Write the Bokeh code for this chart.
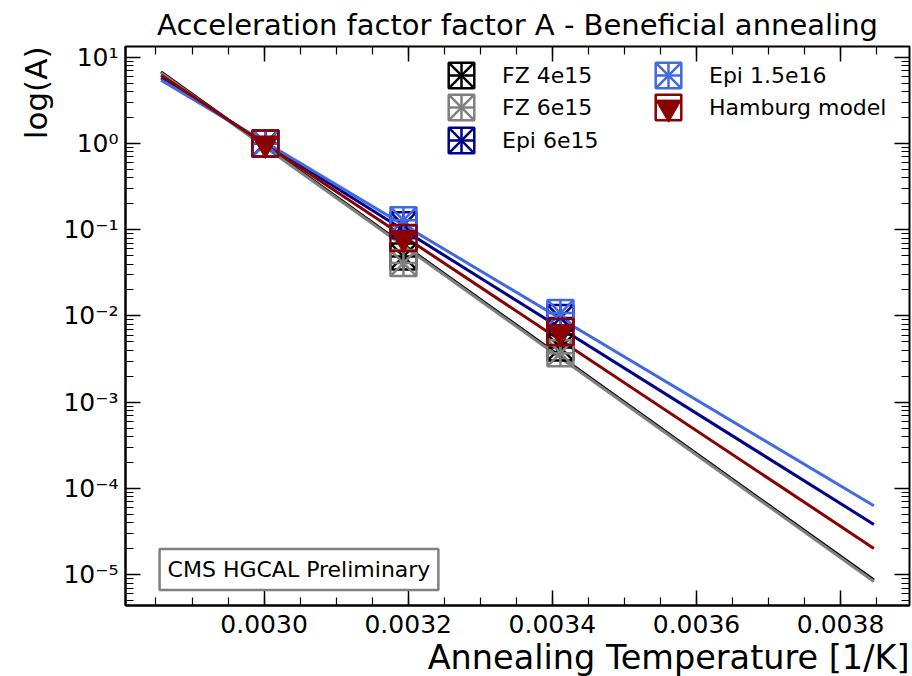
from bokeh.plotting import figure
from bokeh.models import (Range1d, LinearAxis, LogAxis, FixedTicker, Legend, LegendItem,
                          Label, Title, CustomJSTickFormatter)
from bokeh.embed import file_html
from bokeh.resources import INLINE

FONT = "DejaVu Sans"

# Arrhenius fits of the acceleration factor, drawn from 350 K down to 260 K
fit_inv_temp = [0.0028571, 0.0038462]
fit_fz_4e15 = [6.76, 8.67e-6]
fit_fz_6e15 = [6.58, 8.36e-6]
fit_epi_6e15 = [5.73, 3.83e-5]
fit_epi_1p5e16 = [5.42, 6.3e-5]
fit_hamburg = [6.17, 2.02e-5]

# Measured acceleration factors at 60, 40 and 20 degC (1/T in 1/K)
meas_inv_temp = [0.0030017, 0.0031934, 0.0034112]
meas_fz_4e15 = [1.0, 0.049, 0.0043]
meas_fz_6e15 = [1.0, 0.041, 0.0037]
meas_epi_6e15 = [1.0, 0.113, 0.0095]
meas_epi_1p5e16 = [1.0, 0.129, 0.0108]
meas_hamburg = [1.0, 0.080, 0.0065]

series_labels = ["FZ 4e15", "FZ 6e15", "Epi 6e15", "Epi 1.5e16", "Hamburg model"]
series_colors = ["#000000", "#808080", "#00008b", "#4169e1", "#8b0000"]
fits = [fit_fz_4e15, fit_fz_6e15, fit_epi_6e15, fit_epi_1p5e16, fit_hamburg]
measurements = [meas_fz_4e15, meas_fz_6e15, meas_epi_6e15, meas_epi_1p5e16, meas_hamburg]

x_ticks = [0.0030, 0.0032, 0.0034, 0.0036, 0.0038]
y_ticks = [1e-5, 1e-4, 1e-3, 1e-2, 1e-1, 1e0, 1e1]

x_minor = [0.00280 + 0.00005 * i for i in range(23)]
y_minor = [k * 10.0 ** e for e in range(-6, 2) for k in range(2, 10)]

p = figure(width=912, height=676,
           x_range=Range1d(0.0028077, 0.0038956),
           y_range=Range1d(4.4e-6, 13.3), y_axis_type="log",
           output_backend="svg", toolbar_location=None, title=None,
           min_border_left=125, min_border_right=3, min_border_top=46,
           min_border_bottom=69)
p.background_fill_color = "white"
p.border_fill_color = "white"
p.outline_line_color = "black"
p.outline_line_width = 2
p.xgrid.visible = False
p.ygrid.visible = False

x_ticker = FixedTicker(ticks=x_ticks, minor_ticks=x_minor)
y_ticker = FixedTicker(ticks=y_ticks, minor_ticks=y_minor)

x_fmt = CustomJSTickFormatter(code="return tick.toFixed(4);")
y_fmt = CustomJSTickFormatter(code="""
const sup = {"-": "\\u207B", "0": "\\u2070", "1": "\\u00B9", "2": "\\u00B2", "3": "\\u00B3",
             "4": "\\u2074", "5": "\\u2075", "6": "\\u2076", "7": "\\u2077", "8": "\\u2078",
             "9": "\\u2079"};
const e = Math.round(Math.log10(tick));
return "10" + String(e).split("").map(c => sup[c]).join("");
""")
blank_fmt = CustomJSTickFormatter(code="return '';")


def style_axis(ax, labelled):
    ax.major_tick_in = 15
    ax.major_tick_out = 0
    ax.minor_tick_in = 8
    ax.minor_tick_out = 0
    ax.major_tick_line_width = 1.5
    ax.minor_tick_line_width = 1.2
    ax.major_tick_line_color = "black"
    ax.minor_tick_line_color = "black"
    ax.axis_line_width = 2
    ax.axis_line_color = "black"
    if labelled:
        ax.major_label_text_font = FONT
        ax.major_label_text_font_size = "25px"
        ax.major_label_text_color = "black"
    else:
        ax.major_label_text_font_size = "0px"
        ax.major_label_standoff = 0
        ax.axis_line_color = None


xa = p.xaxis[0]
xa.ticker = x_ticker
xa.formatter = x_fmt
xa.major_label_standoff = 9
style_axis(xa, True)

ya = p.yaxis[0]
ya.ticker = y_ticker
ya.formatter = y_fmt
ya.major_label_standoff = 7
style_axis(ya, True)

top_ax = LinearAxis(ticker=x_ticker, formatter=blank_fmt)
style_axis(top_ax, False)
p.add_layout(top_ax, "above")

right_ax = LogAxis(ticker=y_ticker, formatter=blank_fmt)
style_axis(right_ax, False)
p.add_layout(right_ax, "right")

# Titles (added after the axes so they sit outside them)
p.add_layout(Title(text="Acceleration factor factor A - Beneficial annealing",
                   align="center", text_font=FONT, text_font_style="normal",
                   text_font_size="29px", text_color="black", standoff=10), "above")
p.add_layout(Title(text="Annealing Temperature [1/K]", align="right", text_font=FONT,
                   text_font_style="normal", text_font_size="33.5px",
                   text_color="black", standoff=0), "below")
p.add_layout(Title(text="log(A)", align="right", text_font=FONT,
                   text_font_style="normal", text_font_size="31px",
                   text_color="black", standoff=14), "left")

# Fitted lines
for ys, c in zip(fits, series_colors):
    p.line(fit_inv_temp, ys, line_color=c, line_width=3)

# Measured points: boxed asterisks for the samples, filled triangle for the model
legend_items = []
for name, ys, c in zip(series_labels, measurements, series_colors):
    if name == "Hamburg model":
        r1 = p.scatter(meas_inv_temp, ys, marker="square", size=26, fill_color=None,
                       line_color=c, line_width=2.5)
        r2 = p.scatter(meas_inv_temp, ys, marker="inverted_triangle", size=26,
                       fill_color=c, line_color=c, line_width=1)
    else:
        r1 = p.scatter(meas_inv_temp, ys, marker="square_x", size=26, fill_color=None,
                       line_color=c, line_width=2.5)
        r2 = p.scatter(meas_inv_temp, ys, marker="cross", size=26, fill_color=None,
                       line_color=c, line_width=2.5)
    legend_items.append(LegendItem(label=name, renderers=[r1, r2]))

# One single-entry legend per slot: two columns, rows 32 px apart
legend_slots = [(304, 498), (304, 466), (304, 433), (511, 498), (511, 466)]
for item, loc in zip(legend_items, legend_slots):
    p.add_layout(Legend(items=[item], location=loc, orientation="vertical",
                        glyph_width=64, glyph_height=64, padding=0, margin=0,
                        label_standoff=9, label_text_font=FONT,
                        label_text_font_size="22px", label_text_color="black",
                        border_line_color=None, background_fill_alpha=0))

# Preliminary tag
p.add_layout(Label(x=0.002855, y=1.15e-5, text="CMS HGCAL Preliminary",
                   text_font=FONT, text_font_size="22px", text_color="black",
                   text_baseline="middle", text_align="left", padding=8,
                   border_line_color="#808080", border_line_width=2.5,
                   background_fill_color="white"))

open("out.html", "w").write(file_html(p, INLINE))
